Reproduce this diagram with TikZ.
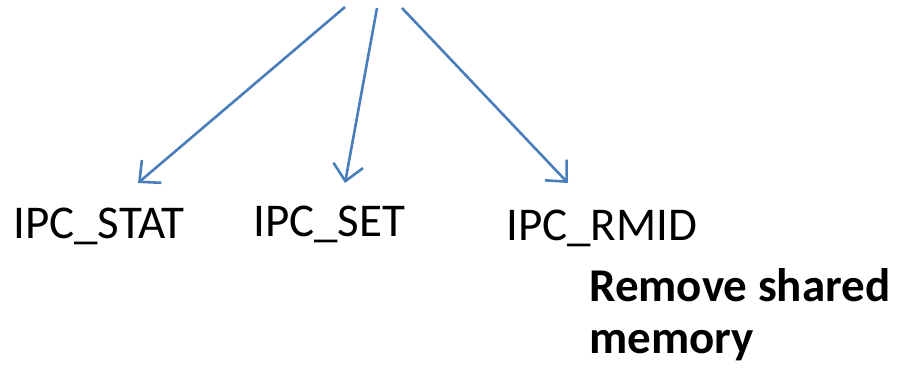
\documentclass[tikz,border=0pt]{standalone}
\usepackage{fontspec}
\setmainfont{Carlito}
\usetikzlibrary{arrows.meta}
\definecolor{linkblue}{HTML}{4A7EBB}
\tikzset{
  cmdlabel/.style={anchor=base west, inner sep=0pt, font=\fontsize{47}{52}\selectfont},
  notelabel/.style={anchor=base west, inner sep=0pt, font=\fontsize{47}{52}\selectfont\bfseries},
  branch/.style={draw=linkblue, line width=2.6pt, -{Straight Barb[length=16pt,width=30pt,line width=2.6pt]}}
}
\begin{document}
\begin{tikzpicture}[x=1pt,y=-1pt]
  \useasboundingbox (0,0) rectangle (899,368);
  % fan-out points at the top
  \coordinate (s1) at (345,7);
  \coordinate (s2) at (377,8);
  \coordinate (s3) at (402,8);
  % arrow ends above the commands
  \coordinate (e1) at (138,183);
  \coordinate (e2) at (345,183);
  \coordinate (e3) at (568,183);
  \draw[branch] (s1) -- (e1);
  \draw[branch] (s2) -- (e2);
  \draw[branch] (s3) -- (e3);
  % commands
  \node[cmdlabel] (stat) at (13,238) {IPC\_STAT};
  \node[cmdlabel] (set) at (253,236) {IPC\_SET};
  \node[cmdlabel] (rmid) at (506,240) {IPC\_RMID};
  % note under IPC_RMID
  \node[notelabel] (note1) at (589,301) {Remove shared};
  \node[notelabel] (note2) at (589,353) {memory};
\end{tikzpicture}
\end{document}
